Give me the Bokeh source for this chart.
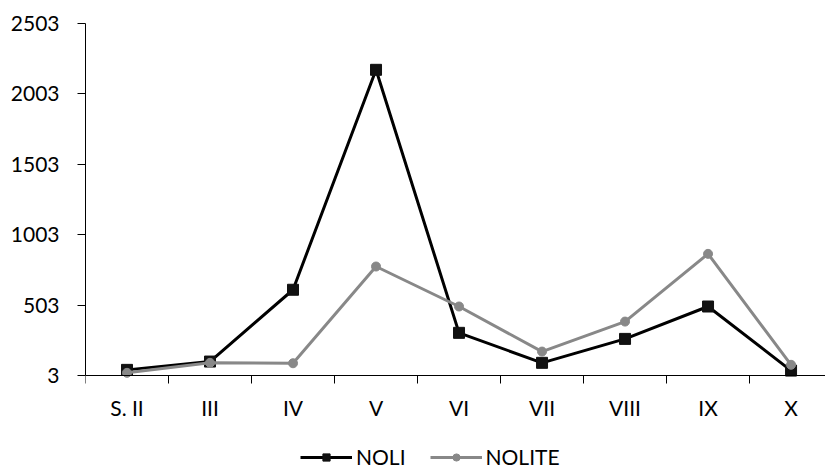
from bokeh.plotting import figure
from bokeh.models import FixedTicker, Legend, LegendItem, Range1d
from bokeh.embed import file_html
from bokeh.resources import INLINE

categories = ["S. II", "III", "IV", "V", "VI", "VII", "VIII", "IX", "X"]
noli = [43, 102, 612, 2174, 306, 93, 263, 493, 38]
nolite = [22, 93, 90, 777, 493, 173, 386, 867, 79]
y_ticks = [3, 503, 1003, 1503, 2003, 2503]

FONT = "Lato"
FS = "21px"

xs = list(range(len(categories)))

# the frame reaches the bottom of the page; the x axis sits at the lowest y tick
AXIS_PX = 352      # pixels between lowest and highest y tick
BELOW_PX = 94      # pixels below the x axis (labels + legend)
y_lo = y_ticks[0] - (y_ticks[-1] - y_ticks[0]) * BELOW_PX / AXIS_PX

p = figure(frame_width=740, frame_height=AXIS_PX + BELOW_PX, output_backend="svg",
           toolbar_location=None,
           x_range=Range1d(-0.5, len(categories) - 0.585),
           y_range=Range1d(y_lo, y_ticks[-1]),
           min_border_left=85, min_border_top=23, min_border_right=0,
           min_border_bottom=0)
p.outline_line_color = None
p.xgrid.visible = False
p.ygrid.visible = False
p.background_fill_color = "white"
p.border_fill_color = "white"

l1 = p.line(xs, noli, line_color="black", line_width=3)
m1 = p.scatter(xs, noli, marker="square", size=11, fill_color="#111111", line_color="#111111")
l2 = p.line(xs, nolite, line_color="#888888", line_width=3)
m2 = p.scatter(xs, nolite, marker="circle", size=9, fill_color="#888888", line_color="#888888")

# x axis: labels at centres, ticks at category boundaries
p.xaxis.fixed_location = y_ticks[0]
p.xaxis.ticker = FixedTicker(ticks=xs, minor_ticks=[i - 0.5 for i in range(len(categories) + 1)])
p.xaxis.major_label_overrides = {i: c for i, c in enumerate(categories)}
p.xaxis.major_tick_out = 0
p.xaxis.major_tick_in = 0
p.xaxis.minor_tick_out = 8
p.xaxis.minor_tick_in = 0
p.xaxis.minor_tick_line_color = "black"
p.xaxis.axis_line_color = "black"
p.xaxis.major_label_text_font = FONT
p.xaxis.major_label_text_font_size = FS
p.xaxis.major_label_text_color = "black"
p.xaxis.major_label_standoff = 11

p.yaxis.ticker = FixedTicker(ticks=y_ticks)
p.yaxis.bounds = (y_ticks[0], y_ticks[-1])
p.yaxis.minor_tick_line_color = None
p.yaxis.major_tick_out = 8
p.yaxis.major_tick_in = 0
p.yaxis.axis_line_color = "black"
p.yaxis.major_label_text_font = FONT
p.yaxis.major_label_text_font_size = FS
p.yaxis.major_label_text_color = "black"
p.yaxis.major_label_standoff = 18

legend = Legend(items=[LegendItem(label="NOLI", renderers=[l1, m1]),
                       LegendItem(label="NOLITE", renderers=[l2, m2])],
                orientation="horizontal", location=(215, 0),
                label_text_font=FONT, label_text_font_size=FS, label_text_color="black",
                glyph_width=52, glyph_height=18, label_height=18, label_standoff=4, spacing=24,
                border_line_color=None, background_fill_alpha=0, margin=0,
                padding=0)
p.add_layout(legend, "center")

open("out.html", "w").write(file_html(p, INLINE))
